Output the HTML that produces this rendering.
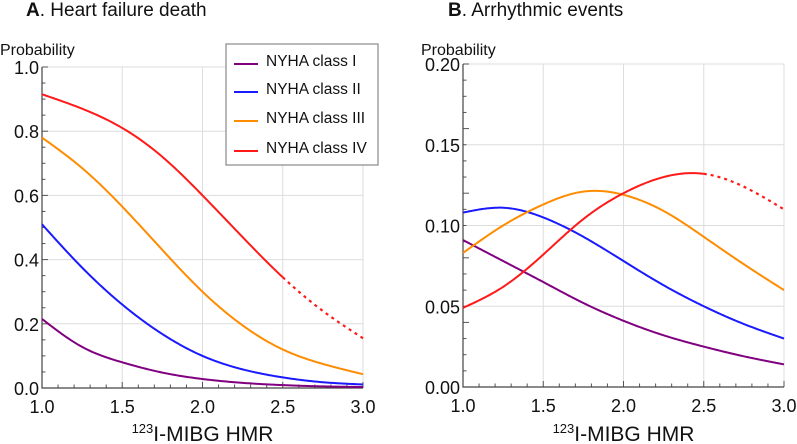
<!DOCTYPE html>
<html><head><meta charset="utf-8"><style>
body{margin:0;background:#fff}
svg{display:block;font-family:"Liberation Sans",Arial,sans-serif}
</style></head><body>
<svg id="c" width="797" height="444" viewBox="0 0 797 444"></svg>
<script>
const xs=[1.0,1.25,1.5,1.75,2.0,2.25,2.5,2.75,3.0];
const seriesNames=["NYHA class I","NYHA class II","NYHA class III","NYHA class IV"];
const colors=["#800080","#1a1aff","#ff8c00","#ff1a1a"];
const hfI=[0.215,0.128,0.08,0.048,0.028,0.016,0.009,0.005,0.003];
const hfII=[0.51,0.375,0.26,0.168,0.10,0.058,0.033,0.018,0.011];
const hfIII=[0.78,0.685,0.565,0.43,0.30,0.195,0.12,0.075,0.043];
const hfIV=[0.915,0.87,0.81,0.72,0.60,0.47,0.345,0.24,0.155];
const arI=[0.091,0.078,0.065,0.052,0.041,0.032,0.025,0.019,0.014];
const arII=[0.108,0.111,0.105,0.093,0.078,0.063,0.050,0.039,0.030];
const arIII=[0.083,0.100,0.113,0.121,0.119,0.109,0.093,0.076,0.060];
const arIV=[0.049,0.062,0.082,0.104,0.120,0.130,0.132,0.124,0.110];
const xTicks=["1.0","1.5","2.0","2.5","3.0"];
const yTicksA=["0.0","0.2","0.4","0.6","0.8","1.0"];
const yTicksB=["0.00","0.05","0.10","0.15","0.20"];

const svg=document.getElementById('c');
const NS="http://www.w3.org/2000/svg";
function mk(tag,attrs,parent){const e=document.createElementNS(NS,tag);for(const k in attrs)e.setAttribute(k,attrs[k]);(parent||svg).appendChild(e);return e;}
// natural cubic spline
function spline(x,y){const n=x.length,h=[],a=[],l=[1],mu=[0],z=[0],c=new Array(n).fill(0),b=[],d=[];
  for(let i=0;i<n-1;i++)h.push(x[i+1]-x[i]);
  for(let i=1;i<n-1;i++)a[i]=3/h[i]*(y[i+1]-y[i])-3/h[i-1]*(y[i]-y[i-1]);
  for(let i=1;i<n-1;i++){l[i]=2*(x[i+1]-x[i-1])-h[i-1]*mu[i-1];mu[i]=h[i]/l[i];z[i]=(a[i]-h[i-1]*z[i-1])/l[i];}
  for(let j=n-2;j>=0;j--){c[j]=(j<n-1&&j>0?z[j]:0)-mu[j]*c[j+1];b[j]=(y[j+1]-y[j])/h[j]-h[j]*(c[j+1]+2*c[j])/3;d[j]=(c[j+1]-c[j])/(3*h[j]);}
  return t=>{let j=Math.min(n-2,Math.max(0,x.findIndex((v,i)=>i<n-1&&t<=x[i+1])));if(j<0)j=n-2;const dx=t-x[j];return y[j]+b[j]*dx+c[j]*dx*dx+d[j]*dx*dx*dx;};}

function panel(cfg){
  const g=mk('g',{});
  
  
  const X=v=>cfg.x0+(v-1)/2*(cfg.x1-cfg.x0);
  const Y=v=>cfg.y0-(v/cfg.ymax)*(cfg.y0-cfg.y1);
  [1.5,2.0,2.5,3.0].forEach(v=>{const l=mk('line',{x1:X(v),x2:X(v),y1:cfg.y1,y2:cfg.y0,stroke:"#ddd","stroke-width":1},g);});
  cfg.yt.forEach(t=>{const v=parseFloat(t);if(v>0){const l=mk('line',{x1:cfg.x0,x2:cfg.x1,y1:Y(v),y2:Y(v),stroke:"#ddd","stroke-width":1},g);}});
  for(let k=0;k<=20;k++){const v=1+k*0.1;mk('line',{x1:X(v),x2:X(v),y1:cfg.y0,y2:cfg.y0-(k%5===0?6:3.5),stroke:"#555"},g);}
  for(let k=0;k<=20;k++){const v=k*cfg.ymax/20;mk('line',{x1:cfg.x0,x2:cfg.x0+(k%4===0?6:3.5),y1:Y(v),y2:Y(v),stroke:"#555"},g);}
  const ax=mk('path',{d:`M${cfg.x0},${cfg.y1}V${cfg.y0}H${cfg.x1}`,fill:"none",stroke:"#444","stroke-width":1.2},g);
  
  xTicks.forEach(t=>{const e=mk('text',{x:X(parseFloat(t)),y:cfg.y0+25,"text-anchor":"middle","font-size":18,fill:"#111"},g);e.textContent=t;});
  cfg.yt.forEach(t=>{const e=mk('text',{x:cfg.x0-3,y:Y(parseFloat(t))+7,"text-anchor":"end","font-size":18,fill:"#111"},g);e.textContent=t;});
  cfg.series.forEach((s,si)=>{
    const f=spline(xs,s);
    const solid=[],dash=[];
    for(let k=0;k<=200;k++){const t=1+k*0.01;const p=[X(t).toFixed(2),Y(f(t)).toFixed(2)];if(si===3&&t>2.5001)dash.push(p);else solid.push(p);if(si===3&&k===150)dash.push(p);}
    const a=mk('path',{d:"M"+solid.join("L"),fill:"none",stroke:colors[si],"stroke-width":2},g);
    
    if(dash.length){const b=mk('path',{d:"M"+dash.join("L"),fill:"none",stroke:colors[si],"stroke-width":2.2,"stroke-dasharray":"3,4"},g);
      }
  });
  const tt=mk('text',{x:cfg.tx,y:16,"font-size":19,fill:"#111"},g);
  tt.innerHTML='<tspan font-weight="bold">'+cfg.letter+'</tspan>. '+cfg.title;
  
  const yl=mk('text',{x:cfg.px,y:55,"font-size":16,fill:"#111"},g);yl.textContent="Probability";
  
  const xl=mk('text',{x:(cfg.x0+cfg.x1)/2,y:441,"text-anchor":"middle","font-size":21,fill:"#111"},g);
  xl.innerHTML='<tspan font-size="13" dy="-8">123</tspan><tspan dy="8">I-MIBG HMR</tspan>';
  
}
panel({name:"panel-a-heart-failure",x0:42,x1:363,y0:388,y1:67,ymax:1.0,yt:yTicksA,series:[hfI,hfII,hfIII,hfIV],tx:26,letter:"A",title:"Heart failure death",px:0});
panel({name:"panel-b-arrhythmic",x0:463,x1:784,y0:387,y1:64,ymax:0.2,yt:yTicksB,series:[arI,arII,arIII,arIV],tx:448,letter:"B",title:"Arrhythmic events",px:421});

const lg=mk('g',{});

mk('rect',{x:226,y:44,width:152,height:121,fill:"#fff",stroke:"#888","stroke-width":1.2},lg);
[60,88,117,147].forEach((yy,i)=>{
  const e=mk('g',{},lg);
  
  mk('line',{x1:234,x2:258,y1:yy+4,y2:yy+4,stroke:colors[i],"stroke-width":2},e);
  const t=mk('text',{x:266,y:yy+6,"font-size":15.5,fill:"#111"},e);t.textContent=seriesNames[i];
});
</script>
</body></html>
